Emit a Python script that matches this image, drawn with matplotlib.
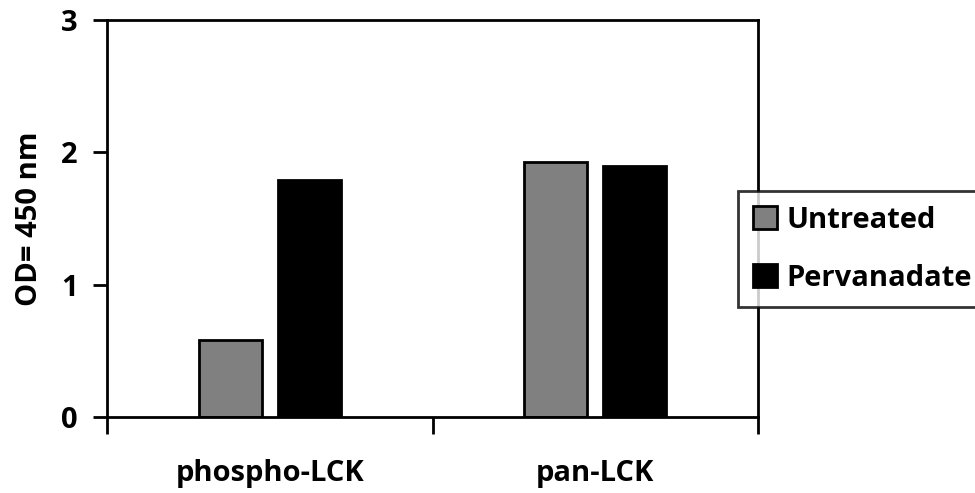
import numpy as np
import matplotlib.pyplot as plt

categories = ["phospho-LCK", "pan-LCK"]
series_names = ["Untreated", "Pervanadate"]
untreated = [0.58, 1.93]
pervanadate = [1.79, 1.90]
y_ticks = [0, 1, 2, 3]

plt.rcParams['font.family'] = ['Open Sans', 'DejaVu Sans']
plt.rcParams['font.weight'] = 'bold'
FS = 21

fig = plt.figure(figsize=(9.75, 4.93), dpi=100)
ax = fig.add_axes([107 / 975, 1 - 417 / 493, (758 - 107) / 975, (417 - 20) / 493])

x = np.arange(len(categories))
width = 0.193
gap = 0.05
off = width / 2 + gap / 2
ax.bar(x - off, untreated, width, color="#808080", edgecolor="black", linewidth=2,
       label=series_names[0])
ax.bar(x + off, pervanadate, width, color="black", edgecolor="black", linewidth=2,
       label=series_names[1])

ax.set_xlim(-0.5, 1.5)
ax.set_ylim(0, 3)
ax.set_yticks(y_ticks)
ax.set_yticklabels([str(v) for v in y_ticks], fontsize=FS, fontweight='bold')

# boundaries get the tick marks, centres get the labels
ax.set_xticks([-0.5, 0.5, 1.5])
ax.set_xticklabels([])
ax.set_xticks(x, minor=True)
ax.set_xticklabels(categories, minor=True, fontsize=FS, fontweight='bold')
ax.tick_params(axis='x', which='major', length=12, width=2, direction='out')
ax.tick_params(axis='x', which='minor', length=0, pad=30)
ax.tick_params(axis='y', length=10, width=2, direction='out', pad=11)

for s in ax.spines.values():
    s.set_linewidth(2)

ax.set_ylabel("OD= 450 nm", fontsize=FS, fontweight='bold', labelpad=12)

leg = fig.legend(loc='upper left', bbox_to_anchor=(738 / 975, 1 - 191 / 493),
                 fancybox=False, frameon=True, edgecolor='black', fontsize=FS,
                 handlelength=0.85, handleheight=0.85, handletextpad=0.3,
                 borderpad=0.5, labelspacing=1.0, borderaxespad=0)
leg.get_frame().set_linewidth(2)
for t in leg.get_texts():
    t.set_fontweight('bold')

fig.savefig("out.png", dpi=100)
